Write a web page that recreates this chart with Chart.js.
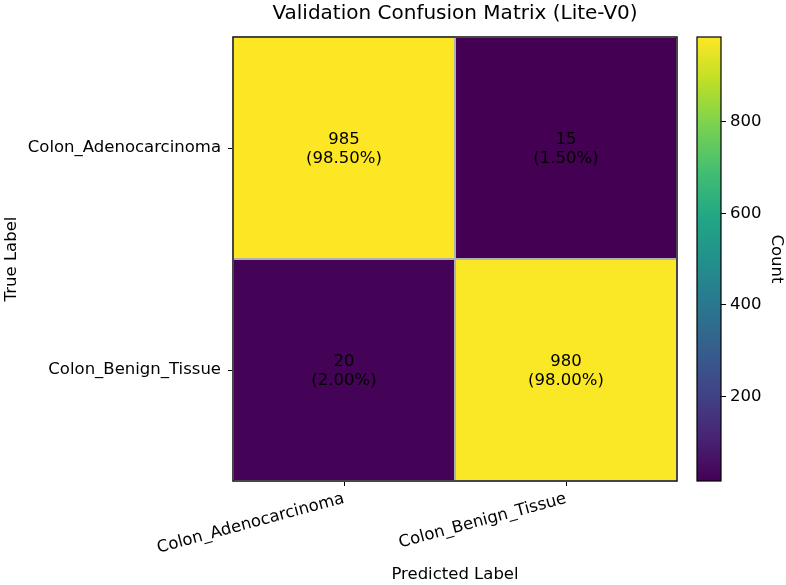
<!DOCTYPE html>
<html>
<head>
<meta charset="utf-8">
<script src="https://cdn.jsdelivr.net/npm/chart.js@4"></script>
<style>
html,body{margin:0;padding:0;background:#fff;}
#wrap{position:relative;width:786px;height:585px;}
#wrap canvas{position:absolute;left:0;top:0;}
</style>
</head>
<body>
<div id="wrap">
<canvas id="main" width="786" height="585"></canvas>
<canvas id="cbar" width="786" height="585"></canvas>
</div>
<script>
// ---- data ----
const classLabels = ['Colon_Adenocarcinoma', 'Colon_Benign_Tissue'];
const countsAdeno = [985, 15];     // true = Colon_Adenocarcinoma
const countsBenign = [20, 980];    // true = Colon_Benign_Tissue
const pctAdeno = ['98.50%', '1.50%'];
const pctBenign = ['2.00%', '98.00%'];
const colorbarTicks = [200, 400, 600, 800];
const colorMin = 15, colorMax = 985;

const FONT = "'DejaVu Sans', sans-serif";
const FS = 16.5;

// viridis colormap
const viridisStops = [
  [0.0, [68, 1, 84]], [0.1, [72, 36, 117]], [0.2, [65, 68, 135]], [0.3, [53, 95, 141]],
  [0.4, [42, 120, 142]], [0.5, [33, 145, 140]], [0.6, [34, 168, 132]], [0.7, [68, 191, 112]],
  [0.8, [122, 209, 81]], [0.9, [189, 223, 38]], [1.0, [253, 231, 37]]
];
function viridis(t) {
  t = Math.max(0, Math.min(1, t));
  for (let i = 1; i < viridisStops.length; i++) {
    const [t1, c1] = viridisStops[i];
    const [t0, c0] = viridisStops[i - 1];
    if (t <= t1) {
      const f = (t - t0) / (t1 - t0);
      const c = c0.map((v, k) => Math.round(v + f * (c1[k] - v)));
      return `rgb(${c[0]},${c[1]},${c[2]})`;
    }
  }
  return 'rgb(253,231,37)';
}
const norm = v => (v - colorMin) / (colorMax - colorMin);

const rows = [
  { label: classLabels[0], counts: countsAdeno, pcts: pctAdeno },
  { label: classLabels[1], counts: countsBenign, pcts: pctBenign }
];
const cells = [];
rows.forEach(r => r.counts.forEach((c, j) => cells.push({ x: classLabels[j], y: r.label, v: c, p: r.pcts[j] })));

const heatmapPlugin = {
  id: 'heatmap',
  beforeDatasetsDraw(chart) {
    const ctx = chart.ctx, xs = chart.scales.x, ys = chart.scales.y;
    const hw = (xs.getPixelForValue(1) - xs.getPixelForValue(0)) / 2;
    const hh = (ys.getPixelForValue(1) - ys.getPixelForValue(0)) / 2;
    const data = chart.data.datasets[0].data;
    ctx.save();
    data.forEach(d => {
      const cx = xs.getPixelForValue(classLabels.indexOf(d.x));
      const cy = ys.getPixelForValue(classLabels.indexOf(d.y));
      ctx.fillStyle = viridis(norm(d.v));
      ctx.fillRect(cx - hw, cy - hh, hw * 2, hh * 2);
    });
    ctx.strokeStyle = '#b0b0b0';
    ctx.lineWidth = 2;
    data.forEach(d => {
      const cx = xs.getPixelForValue(classLabels.indexOf(d.x));
      const cy = ys.getPixelForValue(classLabels.indexOf(d.y));
      ctx.strokeRect(cx - hw, cy - hh, hw * 2, hh * 2);
    });
    ctx.fillStyle = '#000';
    ctx.font = `${FS}px ${FONT}`;
    ctx.textAlign = 'center';
    ctx.textBaseline = 'middle';
    data.forEach(d => {
      const cx = xs.getPixelForValue(classLabels.indexOf(d.x));
      const cy = ys.getPixelForValue(classLabels.indexOf(d.y));
      ctx.fillText(String(d.v), cx, cy - 8.5);
      ctx.fillText('(' + d.p + ')', cx, cy + 11);
    });
    const a = chart.chartArea;
    ctx.strokeStyle = '#000';
    ctx.lineWidth = 1.2;
    ctx.strokeRect(a.left, a.top, a.right - a.left, a.bottom - a.top);
    ctx.restore();
  }
};

new Chart(document.getElementById('main'), {
  type: 'scatter',
  data: { datasets: [{ data: cells, pointRadius: 0, pointHoverRadius: 0 }] },
  plugins: [heatmapPlugin],
  options: {
    responsive: false,
    animation: false,
    events: [],
    layout: { padding: { left: 0, right: 109, top: 0, bottom: 0 } },
    plugins: {
      legend: { display: false },
      tooltip: { enabled: false },
      title: {
        display: true, fullSize: false,
        text: 'Validation Confusion Matrix (Lite-V0)',
        color: '#000', font: { family: FONT, size: 20, weight: 'normal', lineHeight: 1.2 },
        padding: { top: 2, bottom: 11 }
      }
    },
    scales: {
      x: {
        type: 'category', labels: classLabels, offset: true,
        grid: { display: true, drawOnChartArea: false, drawTicks: true, tickLength: 5, tickColor: '#000', color: '#000' },
        border: { display: false },
        ticks: { color: '#000', font: { family: FONT, size: FS }, minRotation: 15, maxRotation: 15, autoSkip: false, padding: 3 },
        title: { display: true, text: 'Predicted Label', color: '#000', font: { family: FONT, size: FS }, padding: { top: 0, bottom: 0 } },
        afterFit(s) { s.height = 104; }
      },
      y: {
        type: 'category', labels: classLabels, offset: true,
        grid: { display: true, drawOnChartArea: false, drawTicks: true, tickLength: 5, tickColor: '#000', color: '#000' },
        border: { display: false },
        ticks: { color: '#000', font: { family: FONT, size: FS }, autoSkip: false, padding: 7 },
        title: { display: true, text: 'True Label', color: '#000', font: { family: FONT, size: FS }, padding: { top: 2, bottom: 0 } },
        afterFit(s) { s.width = 233; }
      }
    }
  }
});

const colorbarPlugin = {
  id: 'colorbar',
  beforeDatasetsDraw(chart) {
    const ctx = chart.ctx, a = chart.chartArea, ys = chart.scales.y;
    ctx.save();
    const yMin = ys.getPixelForValue(colorMin), yMax = ys.getPixelForValue(colorMax);
    const g = ctx.createLinearGradient(0, yMin, 0, yMax);
    for (let i = 0; i <= 50; i++) g.addColorStop(i / 50, viridis(i / 50));
    ctx.fillStyle = g;
    ctx.fillRect(a.left, yMax, a.right - a.left, yMin - yMax);
    ctx.strokeStyle = '#000';
    ctx.lineWidth = 1.2;
    ctx.strokeRect(a.left, a.top, a.right - a.left, a.bottom - a.top);
    ctx.restore();
  }
};

new Chart(document.getElementById('cbar'), {
  type: 'bar',
  data: { labels: [''], datasets: [{ data: [] }] },
  plugins: [colorbarPlugin],
  options: {
    responsive: false,
    animation: false,
    events: [],
    layout: { padding: { left: 697, right: 0, top: 37, bottom: 104 } },
    plugins: { legend: { display: false }, tooltip: { enabled: false }, title: { display: false } },
    scales: {
      x: { display: false },
      y: {
        type: 'linear', position: 'right', min: colorMin, max: colorMax,
        afterBuildTicks(s) { s.ticks = colorbarTicks.map(v => ({ value: v })); },
        grid: { display: true, drawOnChartArea: false, drawTicks: true, tickLength: 5, tickColor: '#000', color: '#000' },
        border: { display: false },
        ticks: { color: '#000', font: { family: FONT, size: FS }, padding: 4 },
        title: { display: true, text: 'Count', color: '#000', font: { family: FONT, size: FS }, padding: { top: 0, bottom: 1 } },
        afterFit(s) { s.width = 786 - 721; }
      }
    }
  }
});
</script>
</body>
</html>
